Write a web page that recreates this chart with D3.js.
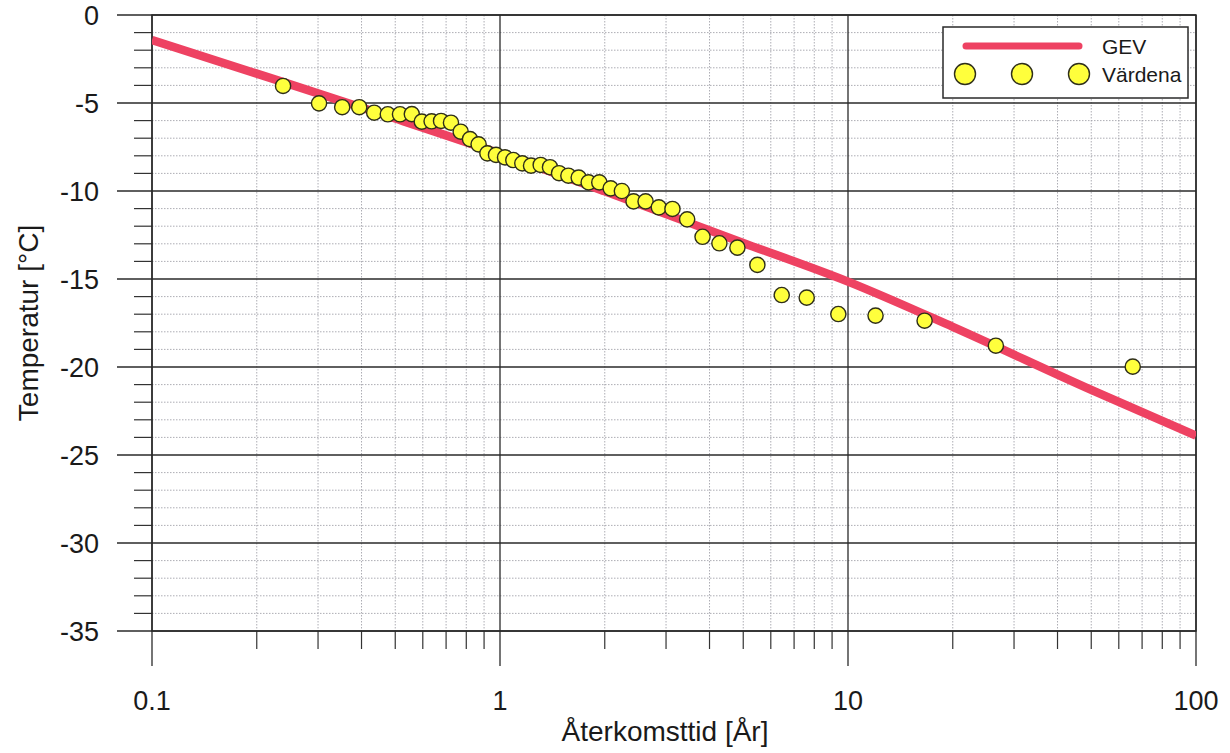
<!DOCTYPE html>
<html>
<head>
<meta charset="utf-8">
<script src="https://cdn.jsdelivr.net/npm/d3@7"></script>
<style>
  html, body { margin: 0; padding: 0; background: #fff; }
  svg { display: block; }
  text { font-family: "Liberation Sans", Arial, sans-serif; fill: #1a1a1a; }
</style>
</head>
<body>
<svg id="chart" width="1230" height="753"></svg>
<script>
// ---- Data ----
const pointReturnPeriods = [0.238, 0.302, 0.352, 0.394, 0.435, 0.476, 0.516, 0.558, 0.596, 0.636,
  0.677, 0.723, 0.771, 0.820, 0.868, 0.920, 0.974, 1.034, 1.092, 1.159,
  1.228, 1.309, 1.392, 1.478, 1.572, 1.683, 1.798, 1.929, 2.08, 2.24,
  2.42, 2.62, 2.86, 3.13, 3.45, 3.82, 4.27, 4.81, 5.49, 6.45,
  7.61, 9.38, 12.0, 16.6, 26.6, 65.8];
const pointTemperatures = [-4.03, -5.02, -5.24, -5.24, -5.55, -5.64, -5.64, -5.63, -6.06, -6.04,
  -6.02, -6.12, -6.63, -7.05, -7.35, -7.86, -7.95, -8.09, -8.24, -8.43,
  -8.56, -8.52, -8.65, -8.99, -9.13, -9.24, -9.51, -9.51, -9.85, -10.0,
  -10.59, -10.59, -10.93, -11.02, -11.61, -12.6, -12.97, -13.22, -14.2, -15.91,
  -16.06, -16.99, -17.08, -17.37, -18.79, -19.98];

const gevReturnPeriods = [0.1, 0.2, 0.5, 1, 2, 5, 10, 20, 50, 100];
const gevTemperatures = [-1.42, -3.33, -5.88, -7.88, -10.02, -12.95, -15.15, -17.72, -21.3, -23.9];

const xMajorTicks = [0.1, 1, 10, 100];
const xTickLabels = ["0.1", "1", "10", "100"];
const yMajorTicks = [0, -5, -10, -15, -20, -25, -30, -35];
const yTickLabels = ["0", "-5", "-10", "-15", "-20", "-25", "-30", "-35"];

const seriesNames = ["GEV", "Värdena"];
const xTitle = "Återkomsttid [År]";
const yTitle = "Temperatur [°C]";

// ---- Layout ----
const L = 152, R = 1196, T = 15, B = 631;
const svg = d3.select("#chart");

const x = d3.scaleLog().domain([0.1, 100]).range([L, R]);
const y = d3.scaleLinear().domain([0, -35]).range([T, B]);

const xMinor = [];
for (let d = 0.1; d < 100; d *= 10) {
  for (let k = 2; k <= 9; k++) xMinor.push(+(d * k).toPrecision(3));
}
const yMinor = d3.range(0, -36, -1).filter(v => v % 5 !== 0);

const grid = svg.append("g");

// minor horizontal grid (dotted) + minor ticks
grid.selectAll(".yminor").data(yMinor).join("line")
  .attr("x1", L).attr("x2", R).attr("y1", d => y(d)).attr("y2", d => y(d))
  .attr("stroke", "#a4a4ac").attr("stroke-width", 0.9).attr("stroke-dasharray", "1.5,1.5");
grid.selectAll(".ymt").data(yMinor).join("line")
  .attr("x1", 134).attr("x2", L).attr("y1", d => y(d)).attr("y2", d => y(d))
  .attr("stroke", "#333").attr("stroke-width", 1.2);

// minor vertical grid (dotted) + minor ticks
grid.selectAll(".xminor").data(xMinor).join("line")
  .attr("x1", d => x(d)).attr("x2", d => x(d)).attr("y1", T).attr("y2", B)
  .attr("stroke", "#a4a4ac").attr("stroke-width", 0.9).attr("stroke-dasharray", "1.5,1.5");
grid.selectAll(".xmt").data(xMinor).join("line")
  .attr("x1", d => x(d)).attr("x2", d => x(d)).attr("y1", B).attr("y2", 649)
  .attr("stroke", "#333").attr("stroke-width", 1.2);

// major grid lines extending out as ticks
grid.selectAll(".ymajor").data(yMajorTicks).join("line")
  .attr("x1", 117).attr("x2", R).attr("y1", d => y(d)).attr("y2", d => y(d))
  .attr("stroke", "#2a2a2a").attr("stroke-width", 1.3);
grid.selectAll(".xmajor").data(xMajorTicks).join("line")
  .attr("x1", d => x(d)).attr("x2", d => x(d)).attr("y1", T).attr("y2", 666)
  .attr("stroke", "#2a2a2a").attr("stroke-width", 1.3);

// frame
svg.append("rect").attr("x", L).attr("y", T).attr("width", R - L).attr("height", B - T)
  .attr("fill", "none").attr("stroke", "#2a2a2a").attr("stroke-width", 1.5);

// tick labels
svg.selectAll(".ylab").data(yMajorTicks).join("text")
  .attr("x", 99).attr("y", d => y(d) + 9.5).attr("text-anchor", "end")
  .attr("font-size", 27).text((d, i) => yTickLabels[i]);
svg.selectAll(".xlab").data(xMajorTicks).join("text")
  .attr("x", d => x(d)).attr("y", 710).attr("text-anchor", "middle")
  .attr("font-size", 27).text((d, i) => xTickLabels[i]);

// axis titles
svg.append("text").attr("x", 665).attr("y", 741).attr("text-anchor", "middle")
  .attr("font-size", 28).text(xTitle);
svg.append("text").attr("transform", `translate(38,${(T + B) / 2}) rotate(-90)`)
  .attr("text-anchor", "middle").attr("font-size", 28).text(yTitle);

// clip
svg.append("clipPath").attr("id", "plotclip").append("rect")
  .attr("x", L).attr("y", T).attr("width", R - L).attr("height", B - T);

const lineColor = "#ee4262";
const pointFill = "#ffff3c";

// GEV line
const gevData = gevReturnPeriods.map((t, i) => [t, gevTemperatures[i]]);
svg.append("path").attr("clip-path", "url(#plotclip)")
  .datum(gevData)
  .attr("d", d3.line().x(d => x(d[0])).y(d => y(d[1])).curve(d3.curveMonotoneX))
  .attr("fill", "none").attr("stroke", lineColor).attr("stroke-width", 8.5);

// points
const pts = pointReturnPeriods.map((t, i) => [t, pointTemperatures[i]]);
svg.append("g").selectAll("circle").data(pts).join("circle")
  .attr("cx", d => x(d[0])).attr("cy", d => y(d[1])).attr("r", 7.6)
  .attr("fill", pointFill).attr("stroke", "#2e2e1a").attr("stroke-width", 1.4);

// legend
const lg = svg.append("g");
lg.append("rect").attr("x", 943).attr("y", 27).attr("width", 245).attr("height", 71)
  .attr("fill", "#fff").attr("stroke", "#2a2a2a").attr("stroke-width", 1.5);
lg.append("line").attr("x1", 966).attr("x2", 1079).attr("y1", 46).attr("y2", 46)
  .attr("stroke", lineColor).attr("stroke-width", 7).attr("stroke-linecap", "round");
[965, 1022, 1079].forEach(cx => {
  lg.append("circle").attr("cx", cx).attr("cy", 74).attr("r", 10.5)
    .attr("fill", pointFill).attr("stroke", "#2e2e1a").attr("stroke-width", 1.4);
});
lg.append("text").attr("x", 1102).attr("y", 54).attr("font-size", 21).text(seriesNames[0]);
lg.append("text").attr("x", 1102).attr("y", 82).attr("font-size", 21).text(seriesNames[1]);
</script>
</body>
</html>
